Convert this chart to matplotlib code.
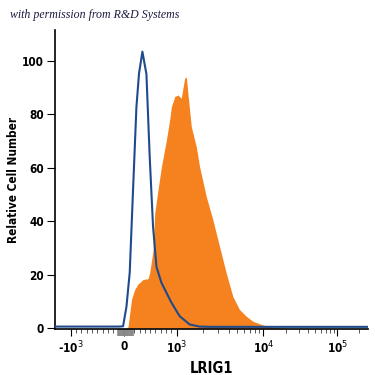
import numpy as np
import matplotlib
matplotlib.use("Agg")
import matplotlib.pyplot as plt

# isotype control (blue outline) - fluorescence vs relative count
iso_x = [-1300, -500, -100, -13, 51, 113, 176, 240, 289, 353, 397, 429, 491, 554, 618,
         713, 807, 901, 1083, 1411, 1838, 2500, 4000, 1e4, 1e5, 2.6e5]
iso_y = [0.6, 0.6, 0.6, 0.7, 8, 20.8, 51.8, 82.8, 95.3, 103.4, 98.5, 95, 64, 38, 23,
         17, 13.3, 9.6, 4.5, 1.4, 0.6, 0.5, 0.5, 0.5, 0.5, 0.5]

# LRIG1 stained (orange fill)
stain_x = [-1300, 0, 40, 81, 146, 208, 270, 365, 459, 491, 554, 586, 648, 713, 807, 869,
           901, 964, 1035, 1132, 1236, 1293, 1349, 1475, 1684, 1838, 2192, 2612, 3118,
           3723, 4439, 5297, 6322, 7535, 9816, 13360, 20000, 2.6e5]
stain_y = [0, 0, 0, 0.5, 10.7, 14.5, 16.5, 18.2, 18.5, 20.8, 29, 43, 51.8, 60.4, 70.4, 78,
           82.8, 86.6, 87.2, 86, 93.4, 94, 87.8, 75.4, 67.9, 60.4, 49.3, 40.6, 30.6,
           20.7, 11.9, 7, 4.5, 2.6, 1.2, 0.4, 0, 0]

yticks = [0, 20, 40, 60, 80, 100]
xticks = [-1000, 0, 1000, 1e4, 1e5]
xlabels = ["-10$^3$", "0", "10$^3$", "10$^4$", "10$^5$"]

# biexponential-like axis: linear up to 1e3, log above
_dec = [3, 4, 5, 6]
_pos = [0, 87 / 53, 161 / 53, 235 / 53]

def fwd(x):
    x = np.asarray(x, dtype=float)
    lg = np.log10(np.maximum(x, 1000.0))
    return np.where(x <= 1000, x / 1000.0, 1 + np.interp(lg, _dec, _pos))

def inv(y):
    y = np.asarray(y, dtype=float)
    lg = np.interp(np.maximum(y - 1, 0), _pos, _dec)
    return np.where(y <= 1, y * 1000.0, 10 ** lg)

bold = dict(family="DejaVu Sans", weight="bold", stretch="condensed")

fig = plt.figure(figsize=(3.75, 3.75), dpi=100)
ax = fig.add_axes([0.1467, 0.1227, 0.8343, 0.7973])
ax.set_xscale("function", functions=(fwd, inv))

ax.fill_between(stain_x, stain_y, 0, color="#f5821f", lw=0, zorder=2)
ax.plot(iso_x, iso_y, color="#1f4a8c", lw=1.5, zorder=3)

ax.set_xlim(-1300, 2.6e5)
ax.set_ylim(-0.3, 111.5)

for s in ["top", "right"]:
    ax.spines[s].set_visible(False)
for s in ["left", "bottom"]:
    ax.spines[s].set_linewidth(1.2)

ax.set_yticks(yticks)
ax.set_yticklabels([str(v) for v in yticks], fontsize=8.5, **bold)
ax.set_xticks(xticks)
ax.set_xticklabels(xlabels, fontsize=8.5, **bold)
minor = [v for v in range(-900, 1000, 100) if v != 0]
minor += [m * 10 ** d for d in (3, 4) for m in range(2, 10)] + [2e5]
ax.set_xticks(minor, minor=True)
ax.tick_params(axis="y", length=6, width=0.8, pad=2)
ax.tick_params(axis="x", which="major", length=5, width=0.8, pad=3)
ax.tick_params(axis="x", which="minor", length=3, width=0.7, color="#555555")

# grey clump of ticks around zero
ax.vlines(np.arange(-110, 190, 15), -0.025, 0, transform=ax.get_xaxis_transform(),
          color="#8a8a8a", lw=1.2, clip_on=False)

ax.set_ylabel("Relative Cell Number", fontsize=8.5, **bold)
ax.yaxis.set_label_coords(-0.112, 0.5)
ax.set_xlabel("LRIG1", fontsize=10.5, labelpad=3, **bold)

fig.text(0.027, 0.952, "with permission from R&D Systems", fontsize=8.6, style="italic",
         family=["Liberation Serif", "DejaVu Serif"], color="#1a1a40")

fig.savefig("out.png", dpi=100)
